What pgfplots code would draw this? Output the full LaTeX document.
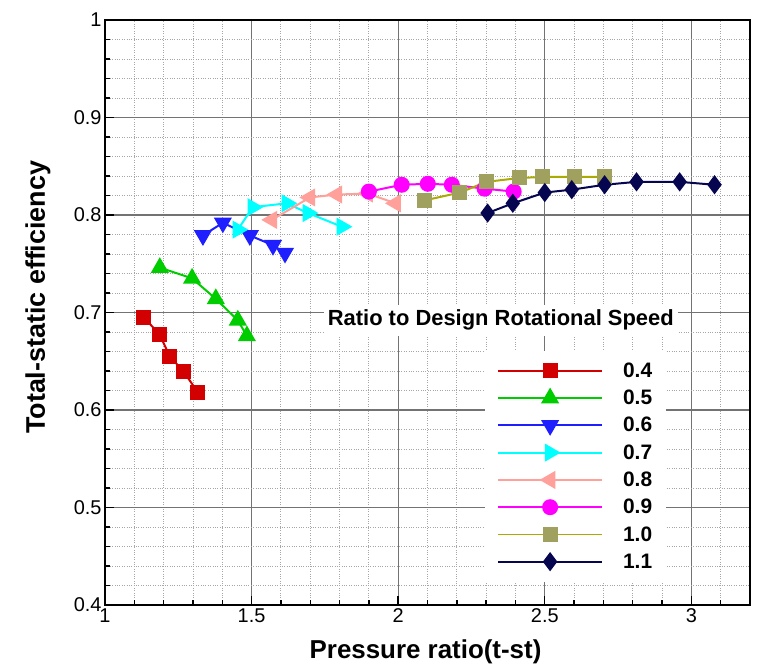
\documentclass[border=0pt]{standalone}
\usepackage{pgfplots}
\pgfplotsset{compat=1.18}
\usepackage{fontspec}
\setmainfont{Liberation Sans}
\definecolor{cRed}{RGB}{210,0,0}
\definecolor{cGreen}{RGB}{0,205,0}
\definecolor{cBlue}{RGB}{30,30,255}
\definecolor{cCyan}{RGB}{0,255,255}
\definecolor{cPink}{RGB}{255,160,155}
\definecolor{cMag}{RGB}{255,0,255}
\definecolor{cOlive}{RGB}{170,170,0}
\definecolor{cOliveF}{RGB}{160,160,95}
\definecolor{cNavy}{RGB}{5,5,80}
\begin{document}
\begin{tikzpicture}
\path[use as bounding box, fill=white] (-105bp,-67bp) rectangle (660bp,605bp);
\begin{axis}[
  scale only axis, width=645bp, height=585bp,
  xmin=1, xmax=3.2, ymin=0.4, ymax=1,
  xtick={1,1.5,2,2.5,3}, ytick={0.4,0.5,0.6,0.7,0.8,0.9,1},
  xticklabels={1,1.5,2,2.5,3},
  yticklabels={0.4,0.5,0.6,0.7,0.8,0.9,1},
  minor xtick={1.1,1.2,1.3,1.4,1.6,1.7,1.8,1.9,2.1,2.2,2.3,2.4,2.6,2.7,2.8,2.9,3.1},
  minor ytick={0.42,0.44,0.46,0.48,0.52,0.54,0.56,0.58,0.62,0.64,0.66,0.68,0.72,0.74,0.76,0.78,0.82,0.84,0.86,0.88,0.92,0.94,0.96,0.98},
  grid=both,
  major grid style={draw=black!55, line width=1.1pt},
  minor grid style={draw=black!35, dotted, line width=0.9pt},
  axis line style={line width=1.6pt, black},
  tick align=inside, xtick pos=left, ytick pos=left,
  major tick length=9bp, minor tick length=5bp,
  every tick/.style={black, line width=1.4pt},
  ticklabel style={font=\fontsize{20}{20}\selectfont},
  /pgf/number format/assume math mode=true,
  xlabel={Pressure ratio(t-st)},
  ylabel={Total-static efficiency},
  xlabel style={font=\bfseries\fontsize{26}{26}\selectfont, at={(rel axis cs:0.497,-0.080)}, anchor=center},
  ylabel style={font=\bfseries\fontsize{27}{27}\selectfont, at={(rel axis cs:-0.104,0.526)}, anchor=center},
  legend cell align=left,
  legend image code/.code={\draw[line width=2pt, mark repeat=2,mark phase=2] plot coordinates {(0bp,0bp) (52bp,0bp) (104bp,0bp)}; \path (122bp,0bp);},
  legend style={at={(rel axis cs:0.589,0.435)}, anchor=north west, fill=white, draw=none,
     font=\bfseries\fontsize{21}{21}\selectfont, row sep=7.2bp, inner xsep=12bp, inner ysep=10bp},
  every axis plot/.append style={line width=2pt},
]
\addplot[color=cRed, mark=square*, mark size=6.5bp, mark options={fill=cRed}] coordinates {
 (1.133,0.695) (1.187,0.677) (1.221,0.655) (1.269,0.639) (1.317,0.618)};
\addlegendentry{0.4}
\addplot[color=cGreen, mark=triangle*, mark size=8.5bp, mark options={fill=cGreen}] coordinates {
 (1.187,0.746) (1.297,0.735) (1.378,0.714) (1.453,0.692) (1.484,0.676)};
\addlegendentry{0.5}
\addplot[color=cBlue, mark=triangle*, mark size=8.5bp, mark options={fill=cBlue, rotate=180}] coordinates {
 (1.334,0.779) (1.402,0.792) (1.494,0.779) (1.573,0.769) (1.614,0.761)};
\addlegendentry{0.6}
\addplot[color=cCyan, mark=triangle*, mark size=8.5bp, mark options={fill=cCyan, rotate=-90}] coordinates {
 (1.453,0.785) (1.504,0.808) (1.620,0.812) (1.692,0.802) (1.808,0.788)};
\addlegendentry{0.7}
\addplot[color=cPink, mark=triangle*, mark size=8.5bp, mark options={fill=cPink, rotate=90}] coordinates {
 (1.569,0.795) (1.699,0.818) (1.791,0.821) (1.896,0.822) (1.991,0.812)};
\addlegendentry{0.8}
\addplot[color=cMag, mark=*, mark size=7bp, mark options={fill=cMag}] coordinates {
 (1.900,0.824) (2.012,0.831) (2.101,0.832) (2.183,0.831) (2.295,0.827) (2.394,0.824)};
\addlegendentry{0.9}
\addplot[color=cOlive, mark=square*, mark size=6.5bp, mark options={fill=cOliveF, draw=cOliveF}] coordinates {
 (2.091,0.815) (2.210,0.823) (2.302,0.834) (2.414,0.838) (2.493,0.839) (2.602,0.839) (2.704,0.839)};
\addlegendentry{1.0}
\addplot[color=cNavy, mark=diamond*, mark size=8bp, mark options={fill=cNavy}] coordinates {
 (2.305,0.802) (2.391,0.812) (2.500,0.823) (2.592,0.826) (2.704,0.831) (2.813,0.834) (2.960,0.834) (3.079,0.831)};
\addlegendentry{1.1}
\node[fill=white, inner xsep=4bp, inner ysep=5bp, font=\bfseries\fontsize{22}{22}\selectfont] at (axis cs:2.35,0.692) {Ratio to Design Rotational Speed};
\end{axis}
\end{tikzpicture}
\end{document}
